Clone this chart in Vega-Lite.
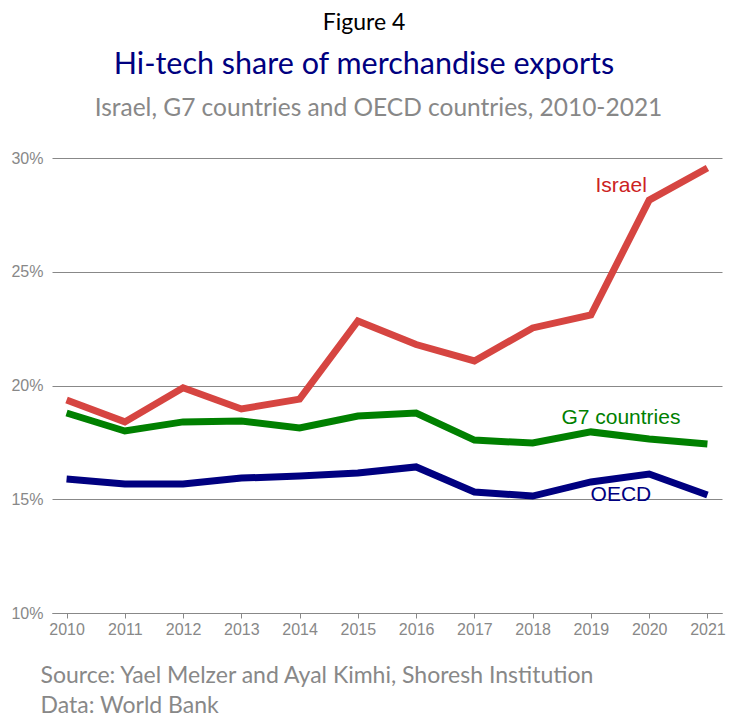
{
  "$schema": "https://vega.github.io/schema/vega-lite/v6.json",
  "width": 670,
  "height": 455,
  "autosize": {"type": "none"},
  "padding": {"left": 52, "top": 158, "right": 7, "bottom": 104},
  "background": "white",
  "title": {
    "text": "Figure 4",
    "subtitle": "Hi-tech share of merchandise exports",
    "anchor": "middle",
    "frame": "group",
    "dx": -23,
    "font": "Lato",
    "fontSize": 23,
    "fontWeight": 400,
    "color": "#000000",
    "subtitleFont": "Lato",
    "subtitleFontSize": 30.5,
    "subtitleFontWeight": 400,
    "subtitleColor": "#000080",
    "subtitlePadding": 15,
    "offset": 15
  },
  "config": {
    "view": {"stroke": null},
    "title": {"fontWeight": 400},
    "axis": {"labelFont": "Liberation Sans", "labelFontSize": 16, "labelColor": "#888888"}
  },
  "data": {
    "values": [
      {"year": "2010", "series": "Israel", "value": 19.36},
      {"year": "2011", "series": "Israel", "value": 18.4},
      {"year": "2012", "series": "Israel", "value": 19.9},
      {"year": "2013", "series": "Israel", "value": 18.97},
      {"year": "2014", "series": "Israel", "value": 19.4},
      {"year": "2015", "series": "Israel", "value": 22.84},
      {"year": "2016", "series": "Israel", "value": 21.8},
      {"year": "2017", "series": "Israel", "value": 21.08},
      {"year": "2018", "series": "Israel", "value": 22.53},
      {"year": "2019", "series": "Israel", "value": 23.1},
      {"year": "2020", "series": "Israel", "value": 28.15},
      {"year": "2021", "series": "Israel", "value": 29.56},
      {"year": "2010", "series": "G7 countries", "value": 18.79},
      {"year": "2011", "series": "G7 countries", "value": 18.0},
      {"year": "2012", "series": "G7 countries", "value": 18.4},
      {"year": "2013", "series": "G7 countries", "value": 18.44},
      {"year": "2014", "series": "G7 countries", "value": 18.13},
      {"year": "2015", "series": "G7 countries", "value": 18.66},
      {"year": "2016", "series": "G7 countries", "value": 18.79},
      {"year": "2017", "series": "G7 countries", "value": 17.6},
      {"year": "2018", "series": "G7 countries", "value": 17.47},
      {"year": "2019", "series": "G7 countries", "value": 17.96},
      {"year": "2020", "series": "G7 countries", "value": 17.65},
      {"year": "2021", "series": "G7 countries", "value": 17.43},
      {"year": "2010", "series": "OECD", "value": 15.89},
      {"year": "2011", "series": "OECD", "value": 15.67},
      {"year": "2012", "series": "OECD", "value": 15.67},
      {"year": "2013", "series": "OECD", "value": 15.93},
      {"year": "2014", "series": "OECD", "value": 16.02},
      {"year": "2015", "series": "OECD", "value": 16.15},
      {"year": "2016", "series": "OECD", "value": 16.42},
      {"year": "2017", "series": "OECD", "value": 15.32},
      {"year": "2018", "series": "OECD", "value": 15.14},
      {"year": "2019", "series": "OECD", "value": 15.76},
      {"year": "2020", "series": "OECD", "value": 16.11},
      {"year": "2021", "series": "OECD", "value": 15.19}
    ]
  },
  "encoding": {
    "x": {
      "field": "year",
      "type": "ordinal",
      "scale": {"type": "point", "padding": 0.25},
      "axis": {
        "labelAngle": 0,
        "domainColor": "#888888",
        "tickColor": "#888888",
        "tickSize": 5,
        "labelPadding": 3,
        "grid": false,
        "title": ["Source: Yael Melzer and Ayal Kimhi, Shoresh Institution", "Data: World Bank"],
        "titleFont": "Lato",
        "titleFontSize": 23,
        "titleFontWeight": 400,
        "titleColor": "#888888",
        "titleAnchor": "start",
        "titleAlign": "left",
        "titleBaseline": "top",
        "titleLineHeight": 30,
        "titleX": -12,
        "titleY": 51
      }
    },
    "y": {
      "field": "value",
      "type": "quantitative",
      "scale": {"domain": [10, 30], "nice": false, "zero": false},
      "axis": {
        "values": [10, 15, 20, 25, 30],
        "labelExpr": "datum.value + '%'",
        "domain": false,
        "ticks": false,
        "labelPadding": 9,
        "gridColor": "#888888",
        "gridWidth": 1,
        "title": "Israel, G7 countries and OECD countries, 2010-2021",
        "titleFont": "Lato",
        "titleFontSize": 24.5,
        "titleFontWeight": 400,
        "titleColor": "#888888",
        "titleAngle": 0,
        "titleAlign": "center",
        "titleBaseline": "middle",
        "titleX": 326,
        "titleY": -50
      }
    }
  },
  "layer": [
    {
      "mark": {"type": "line", "strokeWidth": 7},
      "encoding": {
        "color": {
          "field": "series",
          "type": "nominal",
          "scale": {"domain": ["Israel", "G7 countries", "OECD"], "range": ["#d64541", "#008000", "#000080"]},
          "legend": null
        }
      }
    },
    {
      "transform": [{"filter": "datum.series == 'Israel' && datum.year == '2020'"}],
      "mark": {"type": "text", "font": "Liberation Sans", "fontSize": 21, "color": "#cc2222", "dx": -28, "dy": -14, "baseline": "middle", "align": "center"},
      "encoding": {"text": {"field": "series"}}
    },
    {
      "transform": [{"filter": "datum.series == 'G7 countries' && datum.year == '2019'"}],
      "mark": {"type": "text", "font": "Liberation Sans", "fontSize": 21, "color": "#008000", "dx": 30, "dy": -14, "baseline": "middle", "align": "center"},
      "encoding": {"text": {"field": "series"}}
    },
    {
      "transform": [{"filter": "datum.series == 'OECD' && datum.year == '2019'"}],
      "mark": {"type": "text", "font": "Liberation Sans", "fontSize": 21, "color": "#000080", "dx": 30, "dy": 13, "baseline": "middle", "align": "center"},
      "encoding": {"text": {"field": "series"}}
    }
  ]
}
